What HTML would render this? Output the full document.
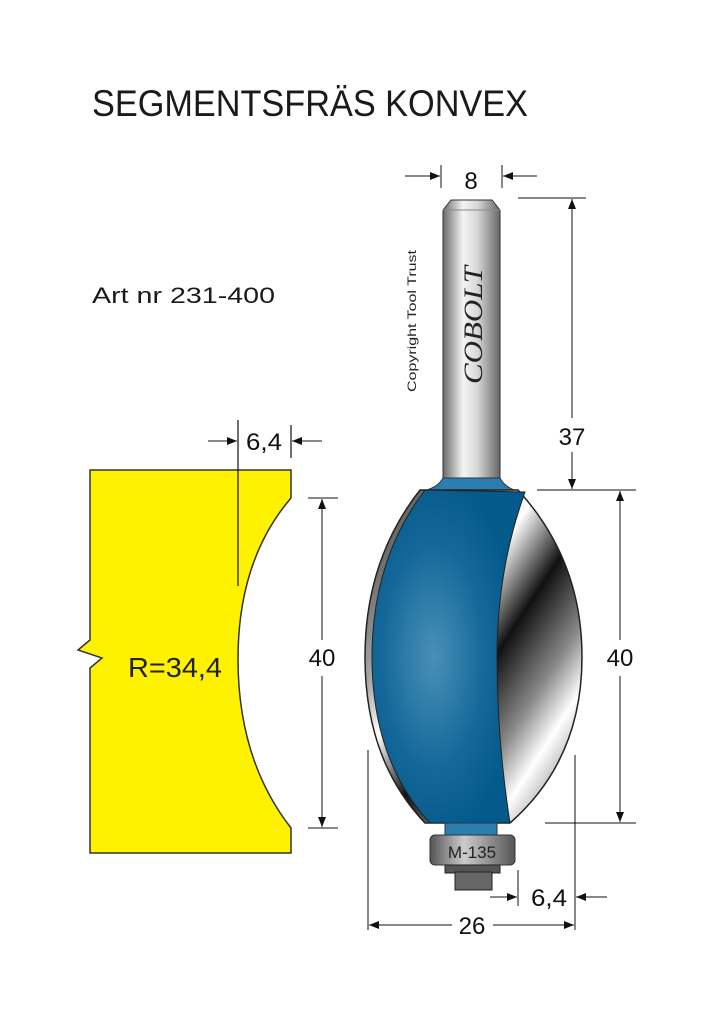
<!DOCTYPE html>
<html><head><meta charset="utf-8"><style>html,body{margin:0;padding:0;background:#fff}svg{display:block}</style></head><body>
<svg width="719" height="1024" viewBox="0 0 719 1024" xmlns="http://www.w3.org/2000/svg" font-family="Liberation Sans, sans-serif">
<defs>
<linearGradient id="shank" x1="0" x2="1" y1="0" y2="0">
<stop offset="0" stop-color="#6a6a6a"/><stop offset="0.35" stop-color="#f4f4f4"/><stop offset="0.6" stop-color="#d8d8d8"/><stop offset="1" stop-color="#666"/></linearGradient>
<radialGradient id="blue" cx="0.4" cy="0.5" r="0.55"><stop offset="0" stop-color="#4a90b8"/><stop offset="0.6" stop-color="#15699a"/><stop offset="1" stop-color="#045a8a"/></radialGradient>
<linearGradient id="steel" x1="0" y1="0" x2="1" y2="1">
<stop offset="0" stop-color="#333"/><stop offset="0.3" stop-color="#aaa"/><stop offset="0.4" stop-color="#fff"/><stop offset="0.55" stop-color="#111"/><stop offset="0.7" stop-color="#888"/><stop offset="0.8" stop-color="#fff"/><stop offset="1" stop-color="#444"/></linearGradient>
<linearGradient id="grey" x1="0" x2="1"><stop offset="0" stop-color="#555"/><stop offset="0.4" stop-color="#ccc"/><stop offset="1" stop-color="#555"/></linearGradient>
<marker id="ar" markerWidth="10" markerHeight="8" refX="10" refY="4" orient="auto" markerUnits="userSpaceOnUse"><path d="M0,0 L10,4 L0,8z" fill="#111"/></marker>
</defs>
<text x="92" y="116" font-size="37" textLength="436" lengthAdjust="spacingAndGlyphs" fill="#1a1a1a">SEGMENTSFRÄS KONVEX</text>
<text x="92" y="303" font-size="22" textLength="183" lengthAdjust="spacingAndGlyphs" fill="#1a1a1a">Art nr 231-400</text>

<path d="M90,470 L291,470 L291,498 Q238,560 238,659 Q238,760 291,828 L291,853 L90,853 L90,668 L102,658 L78,650 L90,640 Z" fill="#fff200" stroke="#333" stroke-width="1.5"/>
<line x1="238" y1="420" x2="238" y2="586" stroke="#111" stroke-width="1.2"/>
<line x1="291" y1="425" x2="291" y2="458" stroke="#111" stroke-width="1.2"/>
<line x1="208" y1="441" x2="237" y2="441" stroke="#111" marker-end="url(#ar)"/>
<line x1="322" y1="441" x2="292" y2="441" stroke="#111" marker-end="url(#ar)"/>
<text x="264" y="450" font-size="24" text-anchor="middle" fill="#111" textLength="36" lengthAdjust="spacingAndGlyphs">6,4</text>
<text x="175" y="677" font-size="28" text-anchor="middle" fill="#222" textLength="94" lengthAdjust="spacingAndGlyphs">R=34,4</text>
<line x1="308" y1="498" x2="338" y2="498" stroke="#111"/>
<line x1="308" y1="828" x2="338" y2="828" stroke="#111"/>
<line x1="322" y1="640" x2="322" y2="499" stroke="#111" marker-end="url(#ar)"/>
<line x1="322" y1="676" x2="322" y2="827" stroke="#111" marker-end="url(#ar)"/>
<text x="322" y="666" font-size="24" text-anchor="middle" fill="#111">40</text>

<path d="M443,210 L451,200 L492,200 L500,210 L500,480 L443,480 Z" fill="url(#shank)" stroke="#333" stroke-width="1"/>
<line x1="443" y1="210" x2="500" y2="210" stroke="#888"/>
<path d="M443,478 L500,478 Q505,488 520,492 L420,492 Q438,488 443,478Z" fill="#2a7fb0" stroke="#333"/>
<text transform="translate(416,392) rotate(-90)" font-size="12" fill="#222" textLength="142" lengthAdjust="spacingAndGlyphs">Copyright Tool Trust</text>
<text transform="translate(482,384) rotate(-90)" font-size="26" font-style="italic" font-family="Liberation Serif, serif" fill="#222" textLength="118" lengthAdjust="spacingAndGlyphs">COBOLT</text>

<path d="M420,490 L518,490 Q582,560 582,657 Q582,760 510,823 L425,823 Q365,760 365,657 Q365,560 420,490Z" fill="url(#steel)" stroke="#222" stroke-width="1.5"/>
<path d="M425,490 L525,492 Q497,570 497,657 Q497,740 510,823 L430,823 Q372,760 372,657 Q372,560 425,490Z" fill="url(#blue)" stroke="#222" stroke-width="1"/>
<rect x="445" y="823" width="52" height="13" fill="#2a7fb0" stroke="#333"/>
<rect x="430" y="835" width="85" height="30" rx="5" fill="url(#grey)" stroke="#333"/>
<text x="472" y="858" font-size="17" text-anchor="middle" fill="#222">M-135</text>
<rect x="445" y="865" width="55" height="8" fill="#555" stroke="#222"/>
<rect x="455" y="872" width="37" height="18" fill="#666" stroke="#222"/>

<line x1="441" y1="165" x2="441" y2="188" stroke="#111"/>
<line x1="502" y1="165" x2="502" y2="188" stroke="#111"/>
<line x1="405" y1="176" x2="440" y2="176" stroke="#111" marker-end="url(#ar)"/>
<line x1="537" y1="176" x2="503" y2="176" stroke="#111" marker-end="url(#ar)"/>
<text x="471" y="189" font-size="24" text-anchor="middle" fill="#111">8</text>
<line x1="518" y1="198" x2="586" y2="198" stroke="#111"/>
<line x1="537" y1="490" x2="636" y2="490" stroke="#111"/>
<line x1="545" y1="823" x2="636" y2="823" stroke="#111"/>
<line x1="572" y1="418" x2="572" y2="199" stroke="#111" marker-end="url(#ar)"/>
<line x1="572" y1="452" x2="572" y2="489" stroke="#111" marker-end="url(#ar)"/>
<text x="572" y="445" font-size="24" text-anchor="middle" fill="#111">37</text>
<line x1="620" y1="640" x2="620" y2="491" stroke="#111" marker-end="url(#ar)"/>
<line x1="620" y1="676" x2="620" y2="822" stroke="#111" marker-end="url(#ar)"/>
<text x="620" y="666" font-size="24" text-anchor="middle" fill="#111">40</text>
<line x1="368" y1="750" x2="368" y2="930" stroke="#111"/>
<line x1="575" y1="755" x2="575" y2="930" stroke="#111"/>
<line x1="518" y1="870" x2="518" y2="906" stroke="#111"/>
<line x1="490" y1="897" x2="517" y2="897" stroke="#111" marker-end="url(#ar)"/>
<line x1="607" y1="897" x2="576" y2="897" stroke="#111" marker-end="url(#ar)"/>
<text x="549" y="906" font-size="24" text-anchor="middle" fill="#111" textLength="36" lengthAdjust="spacingAndGlyphs">6,4</text>
<line x1="452" y1="925" x2="369" y2="925" stroke="#111" marker-end="url(#ar)"/>
<line x1="493" y1="925" x2="574" y2="925" stroke="#111" marker-end="url(#ar)"/>
<text x="472" y="934" font-size="24" text-anchor="middle" fill="#111">26</text>
</svg>
</body></html>
